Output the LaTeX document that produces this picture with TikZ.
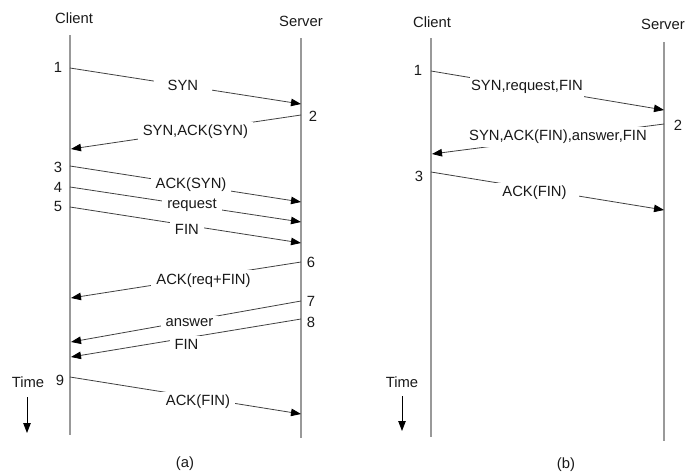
\documentclass[tikz,border=0pt]{standalone}
\usepackage{fontspec}
\setmainfont{Liberation Sans}
\usetikzlibrary{arrows.meta}
\begin{document}
\begin{tikzpicture}[x=1pt,y=-1pt,
  every node/.style={font=\fontsize{14.8}{17}\selectfont, text=black!90, inner sep=1pt},
  life/.style={draw=black!40, line width=1.6pt},
  msg/.style={draw=black!75, line width=0.8pt, -{Triangle[length=10pt,width=7.5pt,color=black]}},
  lbl/.style={fill=white, inner xsep=5pt, inner ysep=3pt},
  timearrow/.style={draw=black, line width=0.9pt, -{Triangle[length=10pt,width=7.5pt]}}]
\useasboundingbox (0,0) rectangle (685,474);

% ---------- (a) ----------
\node (ca) at (74,18) {Client};
\node (sa) at (301,21) {Server};
\coordinate (caT) at (70,35);  \coordinate (caB) at (70,435);
\coordinate (saT) at (301,38); \coordinate (saB) at (301,438);
\draw[life] (caT) -- (caB);
\draw[life] (saT) -- (saB);

\node (n1) at (58,67) {1};
\node (n2) at (313,116) {2};
\node (n3) at (58,167) {3};
\node (n4) at (58,187) {4};
\node (n5) at (58,206) {5};
\node (n6) at (311,262) {6};
\node (n7) at (311,301) {7};
\node (n8) at (311,322) {8};
\node (n9) at (60,380) {9};

\coordinate (a1s) at (70,68);   \coordinate (a1e) at (301,104);
\coordinate (a2s) at (301,115); \coordinate (a2e) at (71,149);
\coordinate (a3s) at (70,166);  \coordinate (a3e) at (301,202);
\coordinate (a4s) at (70,187);  \coordinate (a4e) at (301,222);
\coordinate (a5s) at (70,207);  \coordinate (a5e) at (301,243);
\coordinate (a6s) at (301,262); \coordinate (a6e) at (71,298);
\coordinate (a7s) at (301,301); \coordinate (a7e) at (71,342);
\coordinate (a8s) at (301,319); \coordinate (a8e) at (71,357);
\coordinate (a9s) at (70,377);  \coordinate (a9e) at (301,414);

\draw[msg] (a1s) -- node[lbl, pos=0.489, inner xsep=14pt] (l1) {SYN} (a1e);
\draw[msg] (a2s) -- node[lbl, pos=0.459, yshift=-1pt] (l2) {SYN,ACK(SYN)} (a2e);
\draw[msg] (a3s) -- node[lbl, pos=0.524] (l3) {ACK(SYN)} (a3e);
\draw[msg] (a4s) -- node[lbl, pos=0.528] (l4) {request} (a4e);
\draw[msg] (a5s) -- node[lbl, pos=0.506, yshift=-4pt] (l5) {FIN} (a5e);
\draw[msg] (a6s) -- node[lbl, pos=0.424, yshift=-3pt] (l6) {ACK(req+FIN)} (a6e);
\draw[msg] (a7s) -- node[lbl, pos=0.485, yshift=-2pt] (l7) {answer} (a7e);
\draw[msg] (a8s) -- node[lbl, pos=0.498, yshift=-6pt] (l8) {FIN} (a8e);
\draw[msg] (a9s) -- node[lbl, pos=0.554, yshift=-4pt] (l9) {ACK(FIN)} (a9e);

\node (ta) at (28,382) {Time};
\coordinate (taS) at (27,397); \coordinate (taE) at (27,433);
\draw[timearrow] (taS) -- (taE);
\node (capa) at (185,464) {(a)};

% ---------- (b) ----------
\node (cb) at (432,22) {Client};
\node (sb) at (663,24) {Server};
\coordinate (cbT) at (431,38);  \coordinate (cbB) at (431,437);
\coordinate (sbT) at (664,42);  \coordinate (sbB) at (664,441);
\draw[life] (cbT) -- (cbB);
\draw[life] (sbT) -- (sbB);

\node (m1) at (418,70) {1};
\node (m2) at (678,125) {2};
\node (m3) at (419,176) {3};

\coordinate (b1s) at (431,71);  \coordinate (b1e) at (664,110);
\coordinate (b2s) at (664,124); \coordinate (b2e) at (432,154);
\coordinate (b3s) at (431,172); \coordinate (b3e) at (664,210);

\draw[msg] (b1s) -- node[lbl, pos=0.412, inner xsep=1pt] (k1) {SYN,request,FIN} (b1e);
\draw[msg] (b2s) -- node[lbl, pos=0.457, yshift=1pt, inner xsep=3pt] (k2) {SYN,ACK(FIN),answer,FIN} (b2e);
\draw[msg] (b3s) -- node[lbl, pos=0.444, yshift=-4pt, inner xsep=12pt] (k3) {ACK(FIN)} (b3e);

\node (tb) at (402,382) {Time};
\coordinate (tbS) at (402,396); \coordinate (tbE) at (402,431);
\draw[timearrow] (tbS) -- (tbE);
\node (capb) at (566,465) {(b)};
\end{tikzpicture}
\end{document}
